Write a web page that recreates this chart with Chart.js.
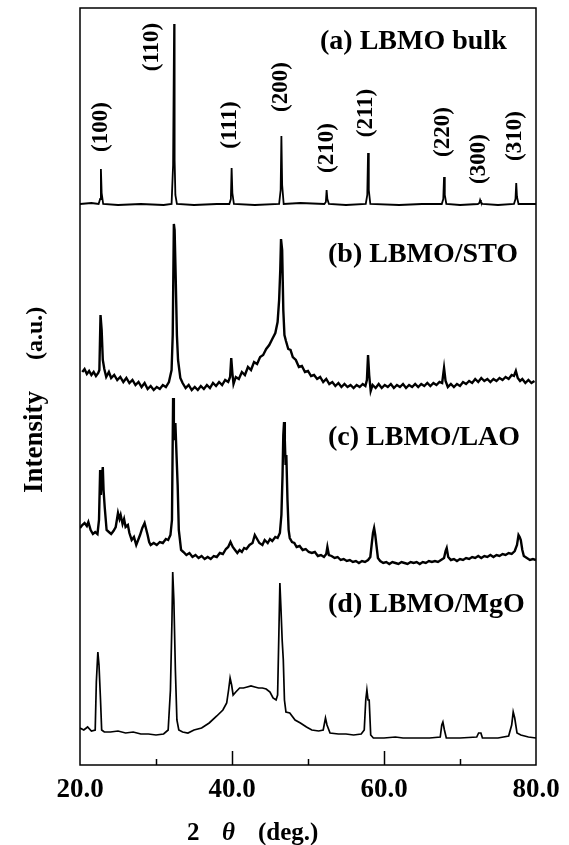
<!DOCTYPE html>
<html>
<head>
<meta charset="utf-8">
<script src="https://cdn.jsdelivr.net/npm/chart.js@4.4.1/dist/chart.umd.min.js"></script>
<style>
  html, body { margin: 0; padding: 0; background: #fff; }
  #wrap { width: 569px; height: 845px; position: relative; }
</style>
</head>
<body>
<div id="wrap"><canvas id="xrdChart"></canvas></div>
<script>
// XRD patterns, 2theta in degrees, intensity in arbitrary units (curves already offset as in the figure)
const bulkAngle = [20.0, 21.5, 22.45, 22.65, 22.75, 22.85, 23.05, 25, 28, 31, 32.05, 32.25, 32.38, 32.45, 32.55, 32.75, 35, 38,
  39.65, 39.85, 39.95, 40.05, 40.25, 43, 46.2, 46.4, 46.5, 46.6, 46.8, 49, 52.15, 52.35, 52.45, 52.55, 52.75, 55,
  57.6, 57.8, 57.9, 58.0, 58.2, 62, 65, 67.6, 67.8, 67.9, 68.0, 68.2, 70, 72.35, 72.55, 72.65, 72.75, 72.95, 75,
  77.1, 77.3, 77.4, 77.5, 77.7, 80];
const bulkCounts = [561, 562, 561, 566, 596, 572, 561, 560, 561, 560, 561, 600, 741, 605, 570, 561, 560, 561,
  561, 566, 597, 572, 561, 560, 561, 575, 629, 580, 561, 562, 561, 563, 575, 566, 561, 560,
  561, 570, 612, 575, 561, 560, 561, 561, 566, 588, 570, 561, 560, 561, 562, 565, 563, 561, 560,
  561, 566, 582, 568, 561, 561];

const stoAngle = [20.3, 20.6, 20.9, 21.2, 21.5, 21.8, 22.1, 22.4, 22.55, 22.7, 22.85, 23.0, 23.2, 23.45, 23.8, 24.1,
  24.5, 24.9, 25.3, 25.7, 26.1, 26.5, 26.9, 27.3, 27.7, 28.1, 28.5, 28.9, 29.3, 29.7, 30.1, 30.5, 30.9, 31.3, 31.7,
  32.05, 32.2, 32.35, 32.45, 32.6, 32.75, 32.9, 33.2, 33.5, 33.9, 34.3, 34.7, 35.1, 35.5, 35.9, 36.3, 36.7, 37.1,
  37.5, 37.9, 38.3, 38.7, 39.1, 39.5, 39.75, 39.9, 40.05, 40.2, 40.5, 40.9, 41.3, 41.7, 42.1, 42.5, 42.9, 43.3,
  43.7, 44.1, 44.5, 44.9, 45.3, 45.7, 46.0, 46.2, 46.35, 46.45, 46.6, 46.75, 46.9, 47.1, 47.4, 47.7, 48.0, 48.4,
  48.8, 49.2, 49.6, 50.0, 50.4, 50.8, 51.2, 51.6, 52.0, 52.4, 52.8, 53.2, 53.6, 54.0, 54.4, 54.8, 55.2, 55.6, 56.0,
  56.4, 56.8, 57.2, 57.55, 57.75, 57.9, 58.05, 58.25, 58.5, 58.9, 59.3, 59.7, 60.1, 60.5, 60.9, 61.3, 61.7, 62.1,
  62.5, 62.9, 63.3, 63.7, 64.1, 64.5, 64.9, 65.3, 65.7, 66.1, 66.5, 66.9, 67.3, 67.65, 67.9, 68.1, 68.4, 68.8, 69.2,
  69.6, 70.0, 70.4, 70.8, 71.2, 71.6, 72.0, 72.4, 72.8, 73.2, 73.6, 74.0, 74.4, 74.8, 75.2, 75.6, 76.0, 76.4, 76.8,
  77.1, 77.35, 77.6, 77.9, 78.2, 78.6, 79.0, 79.4, 79.8];
const stoCounts = [393, 396, 391, 394, 390, 393, 389, 392, 395, 450, 435, 405, 396, 388, 393, 387,
  390, 385, 388, 383, 387, 382, 385, 380, 383, 378, 382, 376, 379, 375, 378, 376, 380, 378, 383,
  395, 430, 541, 535, 485, 430, 405, 387, 382, 377, 380, 375, 378, 375, 379, 376, 380, 377,
  382, 379, 383, 380, 385, 383, 388, 407, 392, 381, 388, 386, 393, 390, 398, 395, 403, 401,
  408, 410, 416, 420, 426, 432, 443, 465, 495, 526, 515, 455, 430, 424, 416, 415, 408, 405,
  398, 399, 393, 394, 389, 390, 386, 388, 383, 386, 381, 383, 379, 382, 378, 381, 378, 380, 377,
  380, 378, 381, 379, 385, 410, 390, 374, 380, 377, 381, 377, 380, 378, 381, 377, 380, 378,
  381, 377, 380, 378, 381, 378, 381, 379, 382, 379, 382, 380, 383, 382, 397, 384, 378, 381, 378,
  381, 379, 383, 381, 384, 382, 386, 383, 387, 384, 386, 383, 386, 384, 387, 385, 388, 386, 390,
  389, 394, 387, 384, 386, 382, 385, 382, 384];

const laoAngle = [20.0, 20.3, 20.6, 20.9, 21.1, 21.4, 21.7, 22.0, 22.3, 22.5, 22.65, 22.75, 22.85, 23.0, 23.1, 23.25,
  23.5, 23.8, 24.1, 24.4, 24.7, 25.0, 25.2, 25.35, 25.6, 25.8, 26.0, 26.3, 26.5, 26.8, 27.1, 27.4, 27.7, 27.9, 28.2,
  28.5, 28.7, 28.9, 29.1, 29.3, 29.7, 30.1, 30.5, 30.9, 31.3, 31.6, 31.9, 32.1, 32.25, 32.35, 32.45, 32.55, 32.7,
  32.85, 33.0, 33.3, 33.6, 34.0, 34.4, 34.8, 35.2, 35.6, 36.0, 36.4, 36.8, 37.2, 37.6, 38.0, 38.4, 38.8, 39.2, 39.5,
  39.8, 40.1, 40.4, 40.7, 41.0, 41.3, 41.6, 41.9, 42.3, 42.7, 43.0, 43.3, 43.6, 44.0, 44.3, 44.7, 45.0, 45.3, 45.7,
  46.0, 46.3, 46.5, 46.65, 46.75, 46.85, 46.95, 47.05, 47.15, 47.3, 47.45, 47.6, 47.9, 48.2, 48.5, 48.9, 49.3, 49.7,
  50.1, 50.5, 50.9, 51.3, 51.7, 52.1, 52.4, 52.55, 52.75, 53.1, 53.5, 53.9, 54.3, 54.7, 55.1, 55.5, 55.9, 56.3, 56.7,
  57.1, 57.5, 57.9, 58.2, 58.4, 58.55, 58.7, 58.85, 59.0, 59.2, 59.5, 59.9, 60.3, 60.7, 61.1, 61.5, 61.9, 62.3, 62.7,
  63.1, 63.5, 63.9, 64.3, 64.7, 65.1, 65.5, 65.9, 66.3, 66.7, 67.1, 67.5, 67.9, 68.1, 68.25, 68.45, 68.8, 69.2, 69.6,
  70.0, 70.4, 70.8, 71.2, 71.6, 72.0, 72.4, 72.8, 73.2, 73.6, 74.0, 74.4, 74.8, 75.2, 75.6, 76.0, 76.4, 76.8, 77.2,
  77.5, 77.7, 77.85, 78.0, 78.2, 78.4, 78.8, 79.2, 79.6, 80.0];
const laoCounts = [237, 240, 242, 239, 243, 235, 231, 233, 231, 245, 295, 270, 285, 298, 275, 258,
  235, 233, 231, 234, 238, 252, 246, 250, 241, 246, 238, 240, 232, 225, 228, 220, 226, 230, 237,
  242, 236, 230, 223, 220, 222, 220, 223, 222, 226, 225, 230, 245, 367, 330, 325, 342, 310,
  280, 235, 215, 213, 210, 212, 208, 210, 207, 209, 206, 208, 206, 209, 208, 212, 211, 216, 218,
  223, 218, 215, 212, 215, 213, 217, 216, 220, 222, 230, 226, 222, 220, 225, 222, 226, 224, 228,
  227, 232, 250, 290, 330, 343, 325, 300, 310, 265, 235, 227, 223, 222, 218, 219, 215, 216,
  213, 212, 213, 209, 210, 208, 211, 218, 210, 209, 207, 208, 205, 206, 204, 205, 203, 204, 202,
  204, 203, 205, 208, 222, 232, 237, 230, 220, 207, 204, 202, 203, 201, 203, 202, 201, 203, 202,
  201, 203, 202, 203, 201, 203, 202, 204, 203, 204, 203, 205, 207, 214, 217, 208, 205, 206, 204,
  206, 205, 207, 206, 208, 207, 209, 207, 209, 208, 210, 208, 210, 209, 211, 210, 212, 211, 214,
  220, 230, 228, 225, 215, 209, 207, 205, 206, 205];

const mgoAngle = [20.0, 20.5, 21.0, 21.5, 22.0, 22.15, 22.35, 22.5, 22.7, 22.85, 23.2, 24, 25, 26, 27, 28, 29, 30, 31,
  31.6, 31.9, 32.1, 32.2, 32.35, 32.55, 32.75, 33.0, 33.5, 34.2, 35, 36, 37, 38, 38.8, 39.3, 39.55, 39.75, 39.95,
  40.15, 40.5, 41.0, 41.5, 42.0, 42.5, 43.0, 43.5, 44.0, 44.5, 45.0, 45.4, 45.8, 46.0, 46.15, 46.3, 46.45, 46.6,
  46.75, 46.9, 47.1, 47.6, 48.3, 49, 49.8, 50.5, 51.4, 52.0, 52.3, 52.5, 52.9, 54, 55, 56, 57.0, 57.4, 57.6, 57.75,
  57.9, 58.05, 58.25, 58.6, 60, 61.5, 62.5, 64, 66, 67.4, 67.6, 67.75, 67.95, 68.2, 70, 72.2, 72.45, 72.75, 72.95,
  75, 76.4, 76.8, 77.0, 77.2, 77.5, 78, 79, 80];
const mgoCounts = [37, 35, 38, 34, 35, 83, 113, 100, 65, 35, 33, 33, 34, 32, 33, 31, 31, 30, 31,
  35, 75, 145, 193, 165, 95, 45, 35, 33, 32, 35, 37, 42, 49, 55, 62, 75, 87, 80,
  70, 73, 77, 77, 78, 79, 78, 77, 77, 76, 73, 67, 65, 70, 125, 182, 155, 125,
  105, 65, 53, 52, 45, 42, 38, 35, 34, 35, 47, 40, 32, 31, 31, 30, 31, 35, 65, 75,
  65, 65, 30, 27, 27, 28, 27, 27, 27, 28, 40, 43, 35, 27, 27, 28, 32, 32, 27,
  27, 29, 40, 53, 47, 32, 30, 28, 27];

const sampleNames = ['(a) LBMO bulk', '(b) LBMO/STO', '(c) LBMO/LAO', '(d) LBMO/MgO'];
const hklNames = ['(100)', '(110)', '(111)', '(200)', '(210)', '(211)', '(220)', '(300)', '(310)'];
const xTickValues = [20, 40, 60, 80];

function toPoints(angles, counts) {
  return angles.map((a, i) => ({ x: a, y: counts[i] }));
}

// where the text goes: [2theta, level] for hkl labels and sample names
const hklPlace = [[22.8, 638], [29.5, 718], [39.7, 640], [46.4, 678], [52.5, 617], [57.6, 652], [67.8, 633], [72.5, 606], [77.2, 629]];
const namePlace = [[20 + 240 / 7.6, 723], [20 + 248 / 7.6, 510], [20 + 248 / 7.6, 327], [20 + 248 / 7.6, 160]];

const serif = "'Liberation Serif', 'DejaVu Serif', serif";

const xrdDecor = {
  id: 'xrdDecor',
  afterDatasetsDraw(chart) {
    const { ctx, chartArea: a, scales: { x, y } } = chart;
    ctx.save();
    ctx.strokeStyle = '#000';
    ctx.fillStyle = '#000';
    ctx.lineWidth = 1.5;
    ctx.strokeRect(a.left, a.top, a.right - a.left, a.bottom - a.top);

    // inward tick marks on the bottom axis
    [30, 40, 50, 60, 70].forEach(v => {
      const px = Math.round(x.getPixelForValue(v)) + 0.5;
      const len = v % 20 === 0 ? 14 : 6;
      ctx.beginPath();
      ctx.moveTo(px, a.bottom);
      ctx.lineTo(px, a.bottom - len);
      ctx.stroke();
    });

    // sample names
    ctx.font = 'bold 28px ' + serif;
    ctx.textAlign = 'left';
    ctx.textBaseline = 'middle';
    sampleNames.forEach((s, i) => {
      ctx.fillText(s, x.getPixelForValue(namePlace[i][0]), y.getPixelForValue(namePlace[i][1]));
    });

    // Miller indices, written upward
    ctx.font = 'bold 23px ' + serif;
    ctx.textAlign = 'center';
    hklNames.forEach((s, i) => {
      ctx.save();
      ctx.translate(x.getPixelForValue(hklPlace[i][0]), y.getPixelForValue(hklPlace[i][1]));
      ctx.rotate(-Math.PI / 2);
      ctx.fillText(s, 0, 0);
      ctx.restore();
    });

    // y axis title
    ctx.save();
    ctx.translate(42, 493);
    ctx.rotate(-Math.PI / 2);
    ctx.textAlign = 'left';
    ctx.textBaseline = 'alphabetic';
    ctx.font = 'bold 27px ' + serif;
    ctx.fillText('Intensity', 0, 0);
    ctx.font = 'bold 24px ' + serif;
    ctx.fillText('(a.u.)', 133, 0);
    ctx.restore();

    // x axis title
    ctx.textAlign = 'left';
    ctx.textBaseline = 'alphabetic';
    ctx.font = 'bold 25px ' + serif;
    ctx.fillText('2', 187, 840);
    ctx.font = 'italic bold 25px ' + serif;
    ctx.fillText('θ', 222, 840);
    ctx.font = 'bold 25px ' + serif;
    ctx.fillText('(deg.)', 258, 840);
    ctx.restore();
  }
};

const traceStyle = { borderColor: '#000', pointRadius: 0, tension: 0, fill: false };

const config = {
  type: 'line',
  data: {
    datasets: [
      { ...traceStyle, label: sampleNames[0], data: toPoints(bulkAngle, bulkCounts), borderWidth: 1.8 },
      { ...traceStyle, label: sampleNames[1], data: toPoints(stoAngle, stoCounts), borderWidth: 2.4 },
      { ...traceStyle, label: sampleNames[2], data: toPoints(laoAngle, laoCounts), borderWidth: 2.4 },
      { ...traceStyle, label: sampleNames[3], data: toPoints(mgoAngle, mgoCounts), borderWidth: 1.7 },
    ],
  },
  options: {
    responsive: true,
    maintainAspectRatio: false,
    animation: false,
    layout: { padding: { left: 80, right: 33, top: 8, bottom: 0 } },
    plugins: {
      legend: { display: false },
      tooltip: { enabled: false },
    },
    scales: {
      x: {
        type: 'linear',
        min: 20,
        max: 80,
        grid: { display: false, drawTicks: false, tickLength: 0 },
        border: { display: false },
        afterBuildTicks: (scale) => { scale.ticks = xTickValues.map(v => ({ value: v })); },
        afterFit: (scale) => { scale.height = 80; },
        ticks: {
          color: '#000',
          padding: 9,
          maxRotation: 0,
          font: { family: serif, size: 27, weight: 'bold' },
          callback: (v) => Number(v).toFixed(1),
        },
      },
      y: {
        type: 'linear',
        min: 0,
        max: 757,
        display: false,
      },
    },
  },
  plugins: [xrdDecor],
};

var ctx = document.getElementById('xrdChart').getContext('2d');
var xrdChart = new Chart(ctx, config);
</script>
</body>
</html>
